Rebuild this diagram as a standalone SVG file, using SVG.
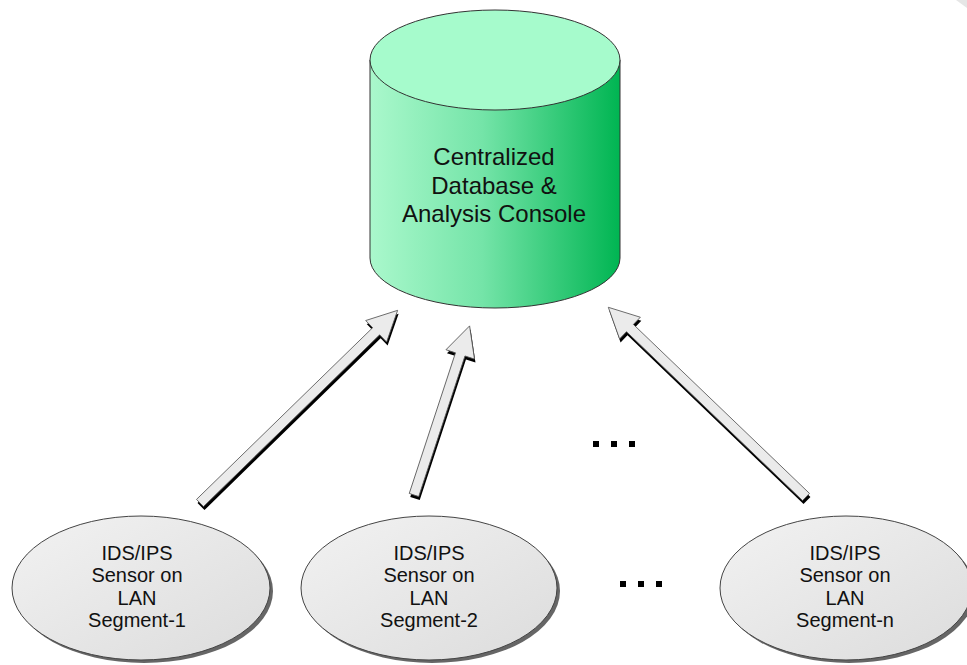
<svg xmlns="http://www.w3.org/2000/svg" width="967" height="665" viewBox="0 0 967 665">
<defs>
<linearGradient id="body" x1="0" y1="0" x2="1" y2="0">
<stop offset="0" stop-color="#aaf8cc"/>
<stop offset="0.45" stop-color="#74e4a8"/>
<stop offset="1" stop-color="#00b552"/>
</linearGradient>
<linearGradient id="ell" x1="0" y1="0" x2="1" y2="1">
<stop offset="0" stop-color="#f2f2f2"/>
<stop offset="1" stop-color="#dcdcdc"/>
</linearGradient>
</defs>
<style>
text{font-family:"Liberation Sans",Arial,sans-serif;fill:#111;text-anchor:middle}
.db{font-size:24px}
.sn{font-size:20px}
.ellshadow{fill:#666}
.ellbody{fill:url(#ell);stroke:#444;stroke-width:1}
.arr{fill:#ebebeb;stroke:#555;stroke-width:0.8;stroke-linejoin:miter}
.arrsh{fill:#000}
.dot{fill:#000}
</style>
<rect width="967" height="665" fill="#fff"/>
<polygon points="956,0 967,0 967,8" fill="#e6e6e6"/>

<g id="database">
<path d="M370,60 L370,258 A125,50 0 0 0 620,258 L620,60 Z" fill="url(#body)" stroke="#333" stroke-width="1"/>
<ellipse cx="495" cy="60" rx="125" ry="50" fill="#a6fbcc" stroke="#333" stroke-width="1"/>
<text class="db" x="494" y="165">Centralized</text>
<text class="db" x="494" y="193.5">Database &amp;</text>
<text class="db" x="494" y="222">Analysis Console</text>
</g>

<g id="connectors">
<g transform="translate(200,503) rotate(-44.27)">
<path class="arrsh" transform="rotate(44.27) translate(1,3.5) rotate(-44.27)" d="M0,-5 L246,-5 L246,-15 L276,0 L246,15 L246,5 L0,5 Z"/>
<path class="arr" d="M0,-5 L246,-5 L246,-15 L276,0 L246,15 L246,5 L0,5 Z"/>
</g>
<g transform="translate(414,495) rotate(-71.8)">
<path class="arrsh" transform="rotate(71.8) translate(1,3.5) rotate(-71.8)" d="M0,-5 L148,-5 L148,-15 L178,0 L148,15 L148,5 L0,5 Z"/>
<path class="arr" d="M0,-5 L148,-5 L148,-15 L178,0 L148,15 L148,5 L0,5 Z"/>
</g>
<g transform="translate(806,497) rotate(-136.18)">
<path class="arrsh" transform="rotate(136.18) translate(1,3.5) rotate(-136.18)" d="M0,-5 L244,-5 L244,-15 L274,0 L244,15 L244,5 L0,5 Z"/>
<path class="arr" d="M0,-5 L244,-5 L244,-15 L274,0 L244,15 L244,5 L0,5 Z"/>
</g>
</g>

<g id="dots1">
<rect class="dot" x="593" y="441" width="6" height="6"/>
<rect class="dot" x="611" y="441" width="6" height="6"/>
<rect class="dot" x="629" y="441" width="6" height="6"/>
</g>
<g id="dots2">
<rect class="dot" x="620" y="581" width="6" height="6"/>
<rect class="dot" x="638" y="581" width="6" height="6"/>
<rect class="dot" x="656" y="581" width="6" height="6"/>
</g>

<g id="sensor1">
<ellipse class="ellshadow" cx="144" cy="591" rx="129" ry="72"/>
<ellipse class="ellbody" cx="141" cy="588" rx="129" ry="72"/>
<text class="sn" x="137" y="559.5">IDS/IPS</text>
<text class="sn" x="137" y="582">Sensor on</text>
<text class="sn" x="137" y="604.5">LAN</text>
<text class="sn" x="137" y="627">Segment-1</text>
</g>
<g id="sensor2">
<ellipse class="ellshadow" cx="432" cy="591" rx="128" ry="72"/>
<ellipse class="ellbody" cx="429" cy="588" rx="128" ry="72"/>
<text class="sn" x="429" y="559.5">IDS/IPS</text>
<text class="sn" x="429" y="582">Sensor on</text>
<text class="sn" x="429" y="604.5">LAN</text>
<text class="sn" x="429" y="627">Segment-2</text>
</g>
<g id="sensorn">
<ellipse class="ellshadow" cx="849" cy="591" rx="126" ry="72"/>
<ellipse class="ellbody" cx="846" cy="588" rx="126" ry="72"/>
<text class="sn" x="845" y="559.5">IDS/IPS</text>
<text class="sn" x="845" y="582">Sensor on</text>
<text class="sn" x="845" y="604.5">LAN</text>
<text class="sn" x="845" y="627">Segment-n</text>
</g>
</svg>
